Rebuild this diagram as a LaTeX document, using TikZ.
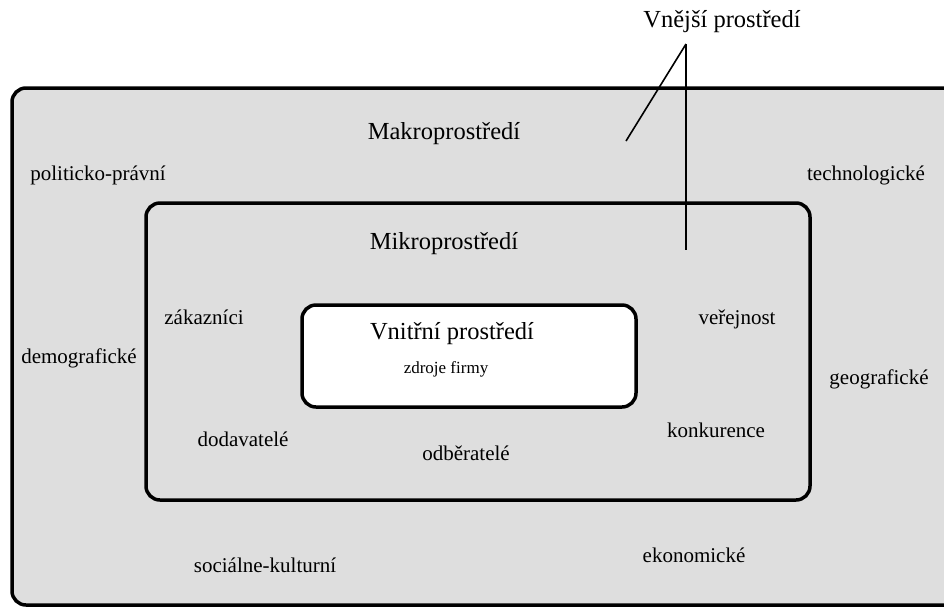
\documentclass[tikz,border=0pt]{standalone}
\usepackage{fontspec}
\setmainfont{Liberation Serif}
\usetikzlibrary{shapes.misc, calc}

\begin{document}
\begin{tikzpicture}[x=1pt, y=-1pt]
    \tikzstyle{area} = [rectangle, rounded corners=14pt, draw=black, fill=black!13, line width=3.5pt, inner sep=0pt]
    \tikzstyle{core} = [rectangle, rounded corners=14pt, draw=black, fill=white, line width=3.5pt, inner sep=0pt]
    \tikzstyle{title} = [font=\fontsize{24.5}{28}\selectfont, inner sep=1pt]
    \tikzstyle{factor} = [font=\fontsize{21}{25}\selectfont, inner sep=1pt]
    \tikzstyle{line} = [line width=1.6pt]
    \clip (0,0) rectangle (944,606);
    \fill[white] (0,0) rectangle (944,606);
    % Boxes
    \node (makro) [area, minimum width=960pt, minimum height=517pt] at (492,346.5) {};
    \node (mikro) [area, minimum width=664pt, minimum height=297pt] at (478,351.5) {};
    \node (vnitrni) [core, minimum width=334pt, minimum height=102pt] at (469,356) {};
    % Titles
    \node (vnejsilabel) [title] at (722,22) {Vnější prostředí};
    \node (makrolabel) [title] at (444,134) {Makroprostředí};
    \node (mikrolabel) [title] at (444,244) {Mikroprostředí};
    \node (vnitrnilabel) [title] at (452,334) {Vnitřní prostředí};
    \node (zdroje) [font=\fontsize{17}{20}\selectfont] at (446,369) {zdroje firmy};
    % Macro factors
    \node (politicke) [factor] at (98,175) {politicko-právní};
    \node (technologicke) [factor] at (866,175) {technologické};
    \node (demograficke) [factor] at (79,358) {demografické};
    \node (geograficke) [factor] at (879,379) {geografické};
    \node (socialni) [factor] at (265,565) {sociálne-kulturní};
    \node (ekonomicke) [factor] at (694,555) {ekonomické};
    % Micro factors
    \node (zakaznici) [factor] at (204,317) {zákazníci};
    \node (verejnost) [factor] at (737,319) {veřejnost};
    \node (dodavatele) [factor] at (243,439) {dodavatelé};
    \node (konkurence) [factor] at (716,430) {konkurence};
    \node (odberatele) [factor] at (466,453) {odběratelé};
    % Pointer lines
    \coordinate (apex) at (686,44);
    \coordinate (makroend) at (626,141);
    \coordinate (mikroend) at (686,250);
    \draw [line] (apex) -- (makroend);
    \draw [line] (apex) -- (mikroend);
\end{tikzpicture}
\end{document}
